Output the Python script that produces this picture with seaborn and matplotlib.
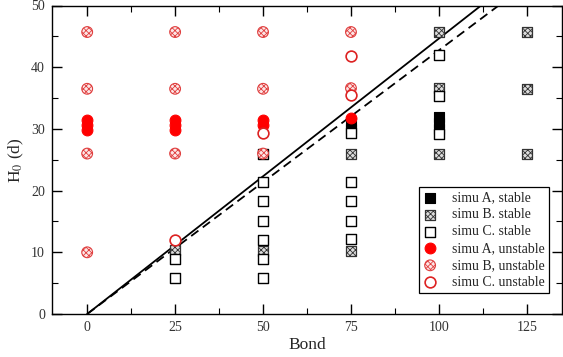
import matplotlib
matplotlib.use("Agg")
import matplotlib.pyplot as plt
from matplotlib.ticker import MultipleLocator
import seaborn as sns
import pandas as pd

# --- data -------------------------------------------------------------
a_stable_x = [75, 75, 100, 100, 100]
a_stable_y = [30.0, 31.0, 30.0, 31.0, 32.0]

b_stable_x = [25, 50, 75, 75, 100, 100, 100, 125, 125, 125]
b_stable_y = [10.4, 10.2, 26.0, 10.2, 45.7, 36.7, 26.0, 45.7, 36.5, 26.0]

c_stable_x = [25, 25, 50, 50, 50, 50, 50, 50, 50,
              75, 75, 75, 75, 75, 100, 100, 100]
c_stable_y = [8.9, 5.8, 26.0, 21.4, 18.3, 15.1, 12.0, 8.9, 5.8,
              29.3, 21.4, 18.3, 15.1, 12.1, 42.0, 35.4, 29.2]

a_unstable_x = [0, 0, 0, 25, 25, 25, 50, 50, 75]
a_unstable_y = [29.8, 30.6, 31.4, 29.8, 30.6, 31.4, 30.6, 31.4, 31.8]

b_unstable_x = [0, 0, 0, 0, 25, 25, 25, 50, 50, 50, 75, 75]
b_unstable_y = [45.7, 36.5, 26.0, 10.0, 45.7, 36.5, 26.0, 45.7, 36.5, 26.0, 45.7, 36.6]

c_unstable_x = [25, 50, 75, 75]
c_unstable_y = [12.0, 29.3, 41.8, 35.5]

# stability limits
solid_x = [0, 112]
solid_y = [0, 50]
dashed_x = [0, 117]
dashed_y = [0, 50]

x_ticks = [0, 25, 50, 75, 100, 125]
y_ticks = [0, 10, 20, 30, 40, 50]

# --- style ------------------------------------------------------------
sns.set_style("ticks")
plt.rcParams["font.family"] = ["Liberation Serif", "DejaVu Serif"]
plt.rcParams["hatch.linewidth"] = 0.6
plt.rcParams["mathtext.fontset"] = "stix"

fig = plt.figure(figsize=(5.63, 3.57), dpi=100)
ax = fig.add_axes([52 / 563, 43 / 357, 510 / 563, 308.5 / 357])

ms = 52  # marker area (pt^2)

def frame(x, y):
    return pd.DataFrame({"Bond": x, "H0": y})

sns.lineplot(data=frame(solid_x, solid_y), x="Bond", y="H0", ax=ax,
             color="black", lw=1.3, linestyle="-")
sns.lineplot(data=frame(dashed_x, dashed_y), x="Bond", y="H0", ax=ax,
             color="black", lw=1.3, linestyle=(0, (5, 3)))

sns.scatterplot(data=frame(a_stable_x, a_stable_y), x="Bond", y="H0", ax=ax,
                marker="s", s=ms, color="black", edgecolor="black",
                linewidth=0.8, label="simu A, stable", zorder=3)
sns.scatterplot(data=frame(b_stable_x, b_stable_y), x="Bond", y="H0", ax=ax,
                marker="s", s=ms, facecolor="#dddddd", edgecolor="#333333",
                hatch="xxxxxx", linewidth=0.9, label="simu B. stable", zorder=4)
sns.scatterplot(data=frame(c_stable_x, c_stable_y), x="Bond", y="H0", ax=ax,
                marker="s", s=ms, facecolor="white", edgecolor="black",
                linewidth=1.0, label="simu C. stable", zorder=5)
sns.scatterplot(data=frame(a_unstable_x, a_unstable_y), x="Bond", y="H0", ax=ax,
                marker="o", s=ms + 8, color="red", edgecolor="red",
                linewidth=0.8, label="simu A, unstable", zorder=6)
sns.scatterplot(data=frame(b_unstable_x, b_unstable_y), x="Bond", y="H0", ax=ax,
                marker="o", s=ms + 8, facecolor="#fde6e6", edgecolor="#e04040",
                hatch="xxxxxx", linewidth=0.8, label="simu B, unstable", zorder=7)
sns.scatterplot(data=frame(c_unstable_x, c_unstable_y), x="Bond", y="H0", ax=ax,
                marker="o", s=ms + 8, facecolor="white", edgecolor="#dd2222",
                linewidth=1.2, label="simu C. unstable", zorder=8)

# --- axes ---------------------------------------------------------------
ax.set_xlim(-10, 135)
ax.set_ylim(0, 50)
ax.set_xticks(x_ticks)
ax.set_yticks(y_ticks)
ax.xaxis.set_minor_locator(MultipleLocator(12.5))
ax.yaxis.set_minor_locator(MultipleLocator(5))
ax.tick_params(which="both", direction="in", top=True, right=True,
               labelsize=10, labelcolor="#333333", color="black", pad=5)
ax.tick_params(which="major", length=7, width=1.0)
ax.tick_params(which="minor", length=4, width=0.8)
for sp in ax.spines.values():
    sp.set_linewidth(1.0)
    sp.set_color("black")

ax.set_xlabel("Bond", fontsize=12.5, labelpad=2)
ax.set_ylabel(r"H$_0$ (d)", fontsize=12.5, labelpad=4)

leg = ax.legend(loc="lower right", bbox_to_anchor=(0.975, 0.068),
                fontsize=10, frameon=True, fancybox=False, edgecolor="black",
                framealpha=1, borderpad=0.3, labelspacing=0.28,
                handletextpad=1.1, handlelength=1.0, borderaxespad=0)
leg.get_frame().set_linewidth(0.9)

fig.savefig("out.png", dpi=100)
